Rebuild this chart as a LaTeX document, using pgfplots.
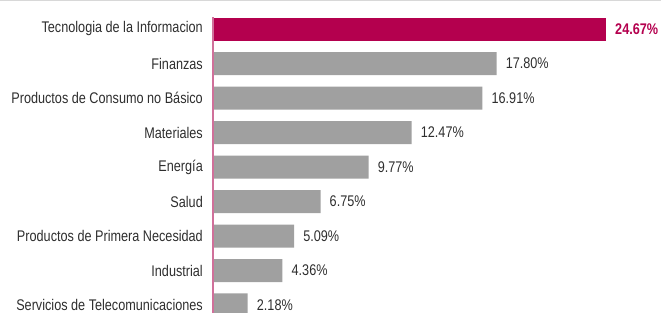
\documentclass[border=0pt]{standalone}
\usepackage{fontspec}
\setmainfont{Liberation Sans}[FakeStretch=0.82]
\usepackage{pgfplots}
\pgfplotsset{compat=1.18}
\definecolor{mag}{HTML}{B4004E}
\definecolor{barg}{HTML}{A0A0A0}
\definecolor{txt}{HTML}{2E2E2E}
\definecolor{axpink}{HTML}{D0709A}
\definecolor{topline}{HTML}{D8D8D8}
\begin{document}
\begin{tikzpicture}
\useasboundingbox (0,0) rectangle (661bp,313bp);
\clip (0,0) rectangle (661bp,313bp);
\begin{axis}[
  at={(213bp,0bp)}, anchor=south west,
  scale only axis, width=448bp, height=313bp,
  xmin=0, xmax=28.12,
  ymin=-0.8406, ymax=8.232, y dir=reverse,
  xbar, bar width=23bp, bar shift=0pt,
  axis line style={draw=none},
  xtick=\empty,
  ytick={0,1,2,3,4,5,6,7,8},
  yticklabels={Tecnologia de la Informacion, Finanzas, Productos de Consumo no Básico, Materiales, Energía, Salud, Productos de Primera Necesidad, Industrial, Servicios de Telecomunicaciones},
  major tick length=0pt,
  y tick label style={font=\fontsize{15.5}{18}\selectfont, text=txt, anchor=east, inner sep=0pt, xshift=-10bp},
  point meta=explicit symbolic,
  nodes near coords,
  nodes near coords style={font=\fontsize{15.5}{18}\selectfont, text=txt, anchor=west, inner sep=0pt, xshift=9bp},
  clip=false,
]
\addplot[fill=mag, draw=none, nodes near coords style={font=\fontsize{15.5}{18}\selectfont\bfseries, text=mag}] coordinates {(24.67,0) [24.67\%]};
\addplot[fill=barg, draw=none] coordinates {
  (17.80,1) [17.80\%]
  (16.91,2) [16.91\%]
  (12.47,3) [12.47\%]
  (9.77,4) [9.77\%]
  (6.75,5) [6.75\%]
  (5.09,6) [5.09\%]
  (4.36,7) [4.36\%]
  (2.18,8) [2.18\%]
};
\draw[axpink, line width=1.5bp] (axis cs:0,-0.34) -- (axis cs:0,8.232);
\end{axis}
\draw[topline, line width=2bp] (0,312.5bp) -- (661bp,312.5bp);
\end{tikzpicture}
\end{document}
